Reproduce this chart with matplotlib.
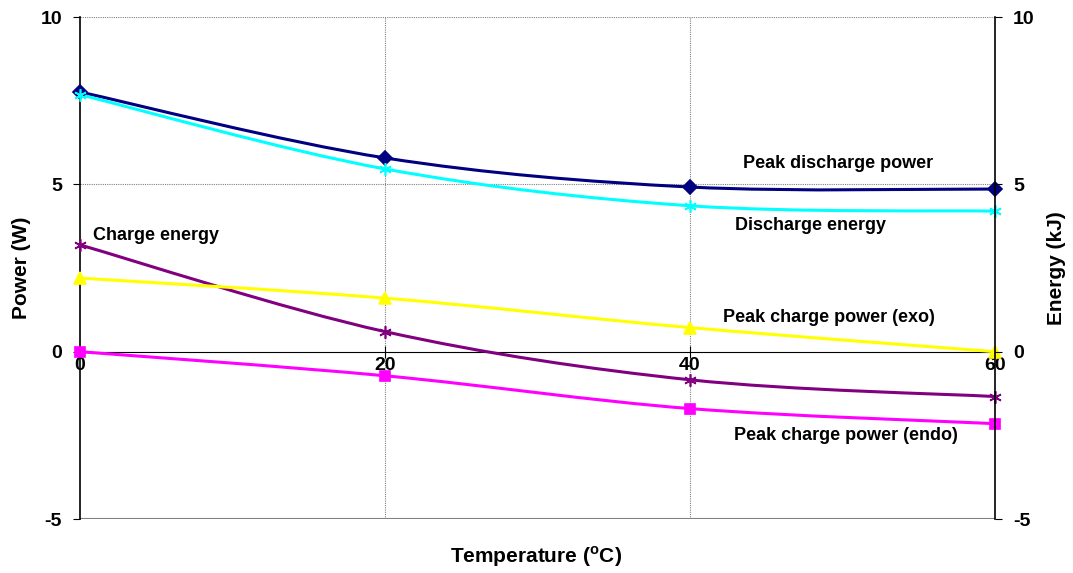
import numpy as np
import matplotlib
matplotlib.use('Agg')
import matplotlib.pyplot as plt
from matplotlib.path import Path
from matplotlib.patches import PathPatch

plt.rcParams['font.family'] = ['Liberation Sans', 'DejaVu Sans']
plt.rcParams['font.weight'] = 'bold'
plt.rcParams['mathtext.fontset'] = 'custom'
plt.rcParams['mathtext.rm'] = 'Liberation Sans:bold'
plt.rcParams['mathtext.bf'] = 'Liberation Sans:bold'

temps = [0, 20, 40, 60]
peak_discharge = [7.76, 5.79, 4.92, 4.86]
discharge_energy = [7.68, 5.46, 4.36, 4.2]
charge_energy = [3.19, 0.6, -0.84, -1.34]
peak_charge_exo = [2.2, 1.6, 0.72, 0.0]
peak_charge_endo = [0.0, -0.72, -1.7, -2.15]


def smooth_path(x, y):
    # excel style smoothed line: cubic bezier through the points
    pts = np.column_stack([x, y]).astype(float)
    n = len(pts)
    verts = [pts[0]]
    codes = [Path.MOVETO]
    for i in range(n - 1):
        p0 = pts[max(i - 1, 0)]
        p1 = pts[i]
        p2 = pts[i + 1]
        p3 = pts[min(i + 2, n - 1)]
        c1 = p1 + (p2 - p0) / 6.0
        c2 = p2 - (p3 - p1) / 6.0
        verts += [c1, c2, p2]
        codes += [Path.CURVE4] * 3
    return Path(verts, codes)


fig = plt.figure(figsize=(10.73, 5.73), dpi=100)
ax = fig.add_axes([0.0746, 0.0942, 0.8527, 0.8761])
ax.set_xlim(0, 60)
ax.set_ylim(-5, 10)

series = [
    (peak_discharge, '#000080', 'D', 7),
    (discharge_energy, '#00FFFF', (6, 2, 0), 9),
    (charge_energy, '#800080', (6, 2, 0), 9),
    (peak_charge_exo, '#FFFF00', '^', 8),
    (peak_charge_endo, '#FF00FF', 's', 7),
]
for vals, col, mk, ms in series:
    ax.add_patch(PathPatch(smooth_path(temps, vals), facecolor='none',
                           edgecolor=col, lw=2.2, zorder=3))
    ax.plot(temps, vals, ls='none', marker=mk, color=col, ms=ms,
            mew=1.2, zorder=4, clip_on=False)

# grid
for yv in [5, 10]:
    ax.axhline(yv, color='#808080', lw=0.8, ls=(0, (1, 1)), zorder=1)
for xv in [20, 40]:
    ax.axvline(xv, color='#808080', lw=0.8, ls=(0, (1, 1)), zorder=1)
ax.axhline(-5, color='#808080', lw=1.5, zorder=1)

ax.spines['top'].set_visible(False)
ax.spines['right'].set_visible(False)
ax.spines['bottom'].set_position(('data', 0))
ax.spines['bottom'].set_zorder(2)
ax.spines['left'].set_linewidth(1.2)

ax.set_xticks(temps)
ax.set_xticklabels([str(t) for t in temps], fontsize=14, fontweight='bold')
ax.tick_params(axis='x', direction='inout', length=8, pad=0)
ax.set_yticks([-5, 0, 5, 10])
ax.set_yticklabels(['-5', '0', '5', '10'], fontsize=14, fontweight='bold')
ax.tick_params(axis='y', direction='out', length=5, pad=8)

ax2 = ax.twinx()
ax2.set_ylim(-5, 10)
ax2.set_yticks([-5, 0, 5, 10])
ax2.set_yticklabels(['-5', '0', '5', '10'], fontsize=14, fontweight='bold')
ax2.tick_params(axis='y', direction='out', length=5, pad=8)
for s in ['top', 'bottom', 'left']:
    ax2.spines[s].set_visible(False)
ax2.spines['right'].set_linewidth(1.2)

# axis titles
fig.text(22 / 1073, 1 - 268 / 573, 'Power (W)', fontsize=15,
         fontweight='bold', rotation=90, ha='center', va='center')
fig.text(1057 / 1073, 1 - 268 / 573, 'Energy (kJ)', fontsize=15,
         fontweight='bold', rotation=90, ha='center', va='center')
fig.text(0.5, 1 - 557 / 573, r'Temperature ($^{\rm o}$C)', fontsize=15,
         fontweight='bold', ha='center', va='center')

# series labels
lab = dict(fontsize=13, fontweight='bold', zorder=5)
ax.text(49.7, 5.62, 'Peak discharge power', ha='center', va='center', **lab)
ax.text(47.9, 3.76, 'Discharge energy', ha='center', va='center', **lab)
ax.text(0.85, 3.47, 'Charge energy', ha='left', va='center', **lab)
ax.text(49.1, 1.02, 'Peak charge power (exo)', ha='center', va='center', **lab)
ax.text(50.2, -2.5, 'Peak charge power (endo)', ha='center', va='center', **lab)

fig.savefig('out.png', dpi=100)
